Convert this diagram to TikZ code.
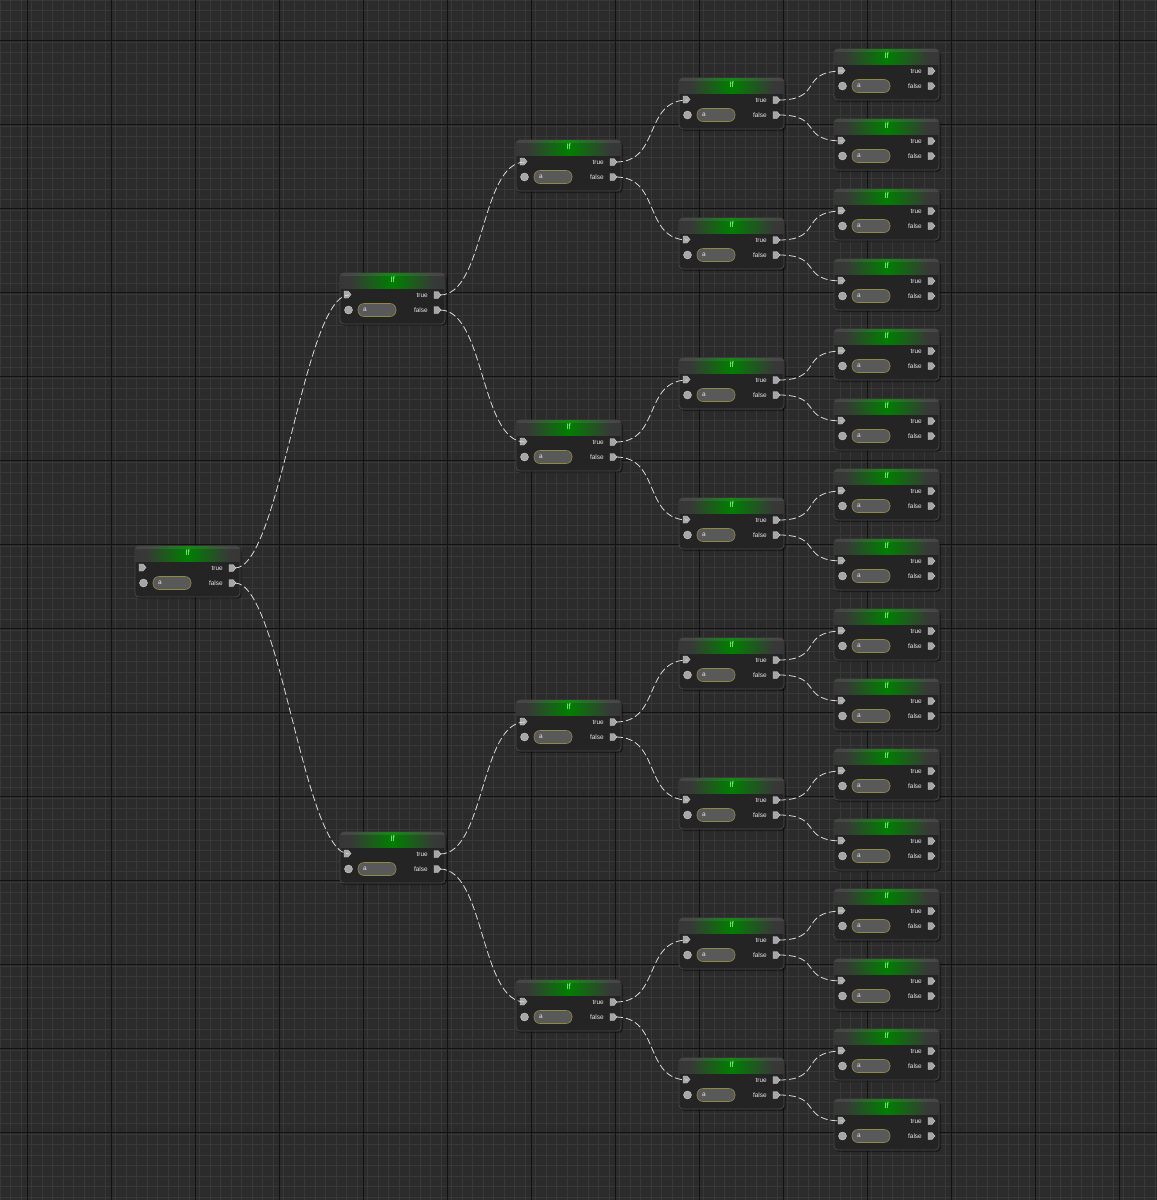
\documentclass[tikz,border=0pt]{standalone}
\usepackage{fontspec}
\setmainfont{Liberation Sans}
\pgfdeclarehorizontalshading{hdr}{100bp}{color(0bp)=(black!80); color(30bp)=(black!78); color(50bp)=(green!50!black); color(70bp)=(black!78); color(100bp)=(black!80)}
\pgfdeclareverticalshading{hdrv}{100bp}{color(0bp)=(black); color(50bp)=(white); color(100bp)=(black!60)}
\begin{document}
\begin{tikzpicture}[x=1pt,y=-1pt,
  body/.style={fill=black!86,draw=black!72,rounded corners=4pt,line width=0.8pt},
  pill/.style={fill=black!65,draw=olive!55!gray,rounded corners=6pt,line width=0.6pt},
  lbl/.style={text=white!90!black,font=\fontsize{6.5}{7}\selectfont,inner sep=0},
  ttl/.style={text=green!40!white,font=\fontsize{8}{9}\selectfont,inner sep=0},
  wire/.style={draw=white!85!black,dash pattern=on 7pt off 3pt,line width=0.8pt},
  port/.style={fill=gray!70,draw=gray!40,line width=0.4pt}]
\useasboundingbox (0,0) rectangle (1157,1200);
\begin{scope}
\clip (0,0) rectangle (1157,1200);
\fill[black!83] (0,0) rectangle (1157,1200);
\foreach \i in {0,...,110}{\draw[black!78,line width=0.5pt] (\i*10.5,0)--(\i*10.5,1200);}
\foreach \i in {0,...,115}{\draw[black!78,line width=0.5pt] (0,\i*10.5)--(1157,\i*10.5);}
\foreach \i in {0,...,14}{\draw[black!93,line width=0.9pt] (27+\i*84,0)--(27+\i*84,1200);}
\foreach \i in {0,...,14}{\draw[black!93,line width=0.9pt] (0,40+\i*84)--(1157,40+\i*84);}
\end{scope}
\newcommand{\ifnode}[3]{%
  \begin{scope}[shift={(#2,#3)}]
  \fill[black,opacity=0.35,rounded corners=4pt] (1,2) rectangle (107,53);
  \path[body] (0,0) rectangle (105,51);
  \begin{scope}
  \clip[rounded corners=4pt] (0,0) rectangle (105,51);
  \shade[shading=hdr] (0,0) rectangle (105,15);
  \fill[white,opacity=0.08] (0,0) rectangle (105,3);
  \end{scope}
  \node[ttl] (#1-t) at (52.5,7) {If};
  \path[port] (4,18)--(8,18)--(11,21.5)--(8,25)--(4,25)--cycle;
  \path[port] (8.5,37) circle (4);
  \path[pill] (18,30.5) rectangle (56,43.5);
  \node[lbl,anchor=west] (#1-a) at (23,37) {a};
  \node[lbl,anchor=east] (#1-tl) at (88,22) {true};
  \node[lbl,anchor=east] (#1-fl) at (88,37) {false};
  \path[port] (94,18.5)--(98,18.5)--(101,22)--(98,25.5)--(94,25.5)--cycle;
  \path[port] (94,33.5)--(98,33.5)--(101,37)--(98,40.5)--(94,40.5)--cycle;
  \coordinate (#1-in) at (9,22);
  \coordinate (#1-T) at (100,22);
  \coordinate (#1-F) at (100,37);
  \end{scope}}
\ifnode{a0}{135}{546}
\foreach \k/\t in {0/273,1/832}{\ifnode{b\k}{340}{\t}}
\foreach \k in {0,...,3}{\pgfmathsetmacro\tt{140+280*\k}\ifnode{c\k}{516}{\tt}}
\foreach \k in {0,...,7}{\pgfmathsetmacro\tt{78+140*\k}\ifnode{d\k}{679}{\tt}}
\foreach \k in {0,...,15}{\pgfmathsetmacro\tt{49+70*\k}\ifnode{e\k}{834}{\tt}}
\newcommand{\conn}[2]{\draw[wire] (#1) .. controls +(45,0) and +(-45,0) .. (#2);}
\conn{a0-T}{b0-in}\conn{a0-F}{b1-in}
\foreach \k in {0,1}{\pgfmathtruncatemacro\a{2*\k}\pgfmathtruncatemacro\b{2*\k+1}
  \conn{b\k-T}{c\a-in}\conn{b\k-F}{c\b-in}}
\foreach \k in {0,...,3}{\pgfmathtruncatemacro\a{2*\k}\pgfmathtruncatemacro\b{2*\k+1}
  \conn{c\k-T}{d\a-in}\conn{c\k-F}{d\b-in}}
\foreach \k in {0,...,7}{\pgfmathtruncatemacro\a{2*\k}\pgfmathtruncatemacro\b{2*\k+1}
  \conn{d\k-T}{e\a-in}\conn{d\k-F}{e\b-in}}
\end{tikzpicture}
\end{document}
